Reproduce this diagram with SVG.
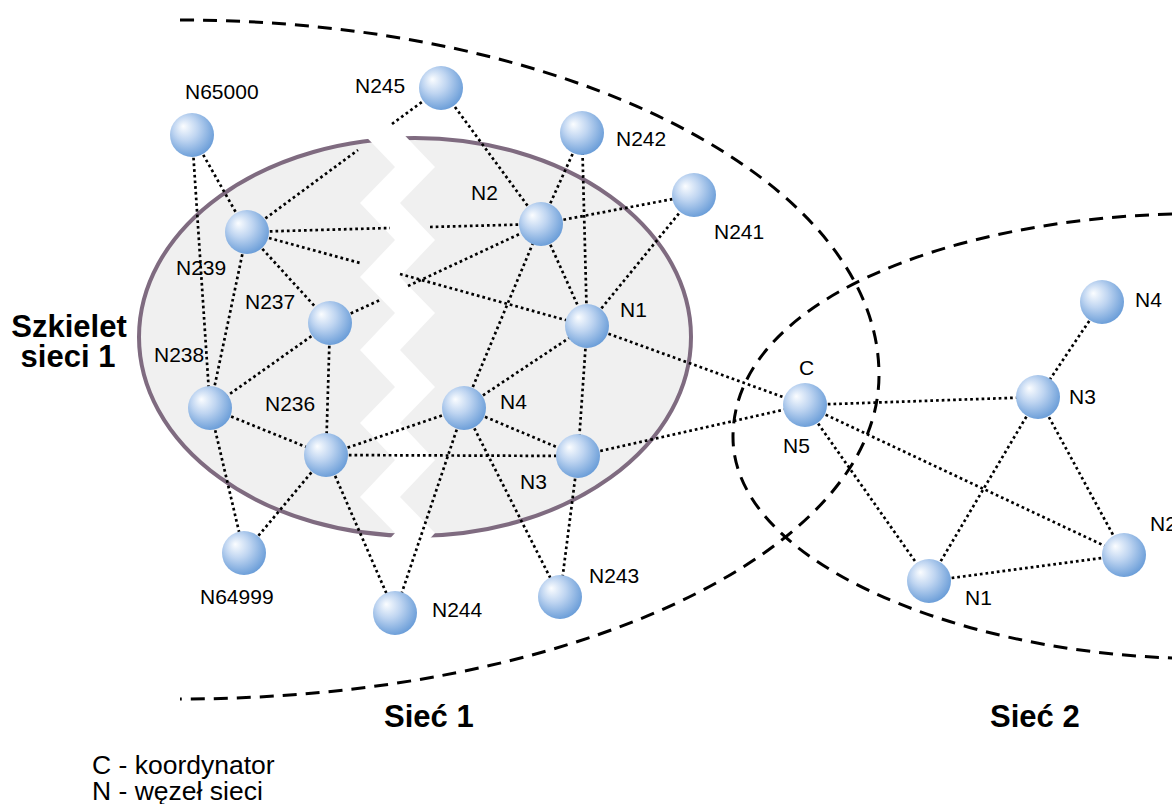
<svg xmlns="http://www.w3.org/2000/svg" width="1172" height="804" viewBox="0 0 1172 804">
<defs>
<radialGradient id="ball" cx="0.42" cy="0.4" r="0.62" fx="0.3" fy="0.3">
<stop offset="0" stop-color="#fbfdff"/>
<stop offset="0.45" stop-color="#bfd5f1"/>
<stop offset="1" stop-color="#6a9dd8"/>
</radialGradient>
<style>
.zone{fill:none;stroke:#000;stroke-width:3;stroke-dasharray:14 9}
.link{stroke:#000;stroke-width:2.7;stroke-dasharray:2.7 3;fill:none}
.lbl{font-family:"Liberation Sans",Arial,sans-serif;font-size:21px;fill:#000}
.big{font-family:"Liberation Sans",Arial,sans-serif;font-size:31px;font-weight:bold;fill:#000}
.leg{font-family:"Liberation Sans",Arial,sans-serif;font-size:26.5px;fill:#000}
.node{fill:url(#ball)}
</style>
</defs>
<rect width="1172" height="804" fill="#fff"/>
<g id="zones">
<path class="zone" d="M180,20 C566,20 879,179 879,375 C879,554 566,699 180,699"/>
<path class="zone" d="M1172,214 C950,220 733,300 733,437 C733,560 950,650 1172,658"/>
</g>
<g id="backbone">
<ellipse cx="415" cy="337" rx="276" ry="199" fill="#f0f0f0" stroke="#7f6b80" stroke-width="4"/>
<polygon fill="#fff" points="350,120 395,167 360,203 395,240 360,277 395,313 360,350 395,387 360,423 395,460 360,497 395,533 384,545 424,545 435,533 400,497 435,460 400,423 435,387 400,350 435,313 400,277 435,240 400,203 435,167 390,120"/>
</g>
<g id="connectors">
<line class="link" x1="192" y1="135" x2="247" y2="232"/>
<line class="link" x1="192" y1="135" x2="210" y2="408"/>
<line class="link" x1="247" y1="232" x2="210" y2="408"/>
<line class="link" x1="247" y1="232" x2="330" y2="323"/>
<line class="link" x1="247" y1="232" x2="358" y2="150"/>
<line class="link" x1="392" y1="124" x2="441" y2="88"/>
<line class="link" x1="247" y1="232" x2="390" y2="228"/>
<line class="link" x1="430" y1="227" x2="541" y2="224"/>
<line class="link" x1="247" y1="232" x2="360" y2="263"/>
<line class="link" x1="400" y1="274" x2="587" y2="326"/>
<line class="link" x1="330" y1="323" x2="380" y2="300"/>
<line class="link" x1="408" y1="286" x2="541" y2="224"/>
<line class="link" x1="330" y1="323" x2="210" y2="408"/>
<line class="link" x1="330" y1="323" x2="326" y2="455"/>
<line class="link" x1="210" y1="408" x2="326" y2="455"/>
<line class="link" x1="210" y1="408" x2="244" y2="553"/>
<line class="link" x1="326" y1="455" x2="244" y2="553"/>
<line class="link" x1="326" y1="455" x2="395" y2="613"/>
<line class="link" x1="326" y1="455" x2="464" y2="408"/>
<line class="link" x1="326" y1="455" x2="578" y2="456"/>
<line class="link" x1="464" y1="408" x2="541" y2="224"/>
<line class="link" x1="464" y1="408" x2="587" y2="326"/>
<line class="link" x1="464" y1="408" x2="578" y2="456"/>
<line class="link" x1="464" y1="408" x2="395" y2="613"/>
<line class="link" x1="464" y1="408" x2="560" y2="597"/>
<line class="link" x1="541" y1="224" x2="441" y2="88"/>
<line class="link" x1="541" y1="224" x2="582" y2="133"/>
<line class="link" x1="541" y1="224" x2="694" y2="195"/>
<line class="link" x1="541" y1="224" x2="587" y2="326"/>
<line class="link" x1="587" y1="326" x2="582" y2="133"/>
<line class="link" x1="587" y1="326" x2="694" y2="195"/>
<line class="link" x1="587" y1="326" x2="578" y2="456"/>
<line class="link" x1="587" y1="326" x2="805" y2="405"/>
<line class="link" x1="578" y1="456" x2="560" y2="597"/>
<line class="link" x1="578" y1="456" x2="805" y2="405"/>
<line class="link" x1="805" y1="405" x2="1038" y2="397"/>
<line class="link" x1="805" y1="405" x2="1124" y2="555"/>
<line class="link" x1="805" y1="405" x2="929" y2="581"/>
<line class="link" x1="1102" y1="302" x2="1038" y2="397"/>
<line class="link" x1="1038" y1="397" x2="929" y2="581"/>
<line class="link" x1="1038" y1="397" x2="1124" y2="555"/>
<line class="link" x1="929" y1="581" x2="1124" y2="555"/>
</g>
<g id="n65000"><circle class="node" cx="192" cy="135" r="22"/><text class="lbl" x="185" y="99">N65000</text></g>
<g id="n245"><circle class="node" cx="441" cy="88" r="22"/><text class="lbl" x="355" y="93">N245</text></g>
<g id="n242"><circle class="node" cx="582" cy="133" r="22"/><text class="lbl" x="616" y="146">N242</text></g>
<g id="n241"><circle class="node" cx="694" cy="195" r="22"/><text class="lbl" x="714" y="239">N241</text></g>
<g id="n2"><circle class="node" cx="541" cy="224" r="22"/><text class="lbl" x="471" y="200">N2</text></g>
<g id="n239"><circle class="node" cx="247" cy="232" r="22"/><text class="lbl" x="176" y="275">N239</text></g>
<g id="n237"><circle class="node" cx="330" cy="323" r="22"/><text class="lbl" x="245" y="309">N237</text></g>
<g id="n1"><circle class="node" cx="587" cy="326" r="22"/><text class="lbl" x="620" y="317">N1</text></g>
<g id="n238"><circle class="node" cx="210" cy="408" r="22"/><text class="lbl" x="154" y="362">N238</text></g>
<g id="n236"><circle class="node" cx="326" cy="455" r="22"/><text class="lbl" x="265" y="411">N236</text></g>
<g id="n4"><circle class="node" cx="464" cy="408" r="22"/><text class="lbl" x="500" y="409">N4</text></g>
<g id="n3"><circle class="node" cx="578" cy="456" r="22"/><text class="lbl" x="520" y="489">N3</text></g>
<g id="n64999"><circle class="node" cx="244" cy="553" r="22"/><text class="lbl" x="200" y="604">N64999</text></g>
<g id="n244"><circle class="node" cx="395" cy="613" r="22"/><text class="lbl" x="432" y="617">N244</text></g>
<g id="n243"><circle class="node" cx="560" cy="597" r="22"/><text class="lbl" x="589" y="583">N243</text></g>
<g id="c-n5"><circle class="node" cx="805" cy="405" r="22"/><text class="lbl" x="799" y="375">C</text><text class="lbl" x="783" y="453">N5</text></g>
<g id="s2-n4"><circle class="node" cx="1102" cy="302" r="22"/><text class="lbl" x="1135" y="307">N4</text></g>
<g id="s2-n3"><circle class="node" cx="1038" cy="397" r="22"/><text class="lbl" x="1069" y="404">N3</text></g>
<g id="s2-n2"><circle class="node" cx="1124" cy="555" r="22"/><text class="lbl" x="1150" y="531">N2</text></g>
<g id="s2-n1"><circle class="node" cx="929" cy="581" r="22"/><text class="lbl" x="965" y="605">N1</text></g>
<g id="titles">
<text class="big" x="69" y="337" text-anchor="middle">Szkielet</text>
<text class="big" x="68" y="367" text-anchor="middle">sieci 1</text>
<text class="big" x="384" y="727">Sieć 1</text>
<text class="big" x="990" y="727">Sieć 2</text>
</g>
<g id="legend">
<text class="leg" x="92" y="774">C - koordynator</text>
<text class="leg" x="92" y="800">N - węzeł sieci</text>
</g>
</svg>
